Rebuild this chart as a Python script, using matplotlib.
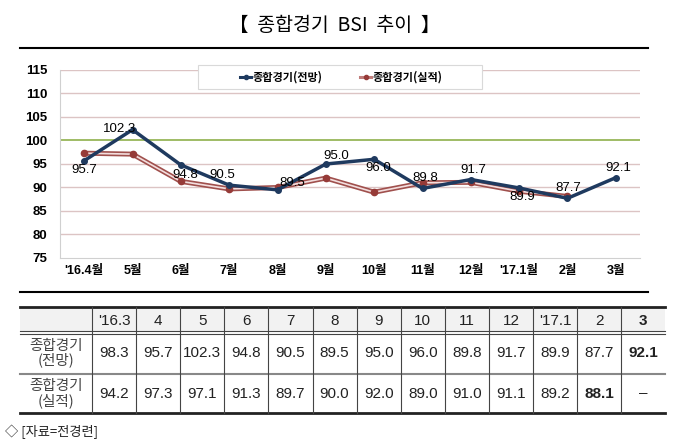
import matplotlib
matplotlib.use('Agg')
import matplotlib.pyplot as plt
from matplotlib.patches import Rectangle
from matplotlib.lines import Line2D
import numpy as np

plt.rcParams['font.family'] = ['Liberation Sans', 'Noto Sans CJK KR', 'DejaVu Sans']

# chart data
months = ["'16.4월", '5월', '6월', '7월', '8월', '9월', '10월', '11월', '12월', "'17.1월", '2월', '3월']
forecast = [95.7, 102.3, 94.8, 90.5, 89.5, 95.0, 96.0, 89.8, 91.7, 89.9, 87.7, 92.1]
actual = [97.3, 97.1, 91.3, 89.7, 90.0, 92.0, 89.0, 91.0, 91.1, 89.2, 88.1, np.nan]
# label offsets in pixels (dx, dy)
label_off = [(0, -9), (-13, 1), (4, -10), (-7, 10), (15, 7), (10, 8),
             (4, -9), (3, 10), (2, 10), (3, -9), (1, 10), (2, 10)]

# table data
table_cols = ["'16.3", '4', '5', '6', '7', '8', '9', '10', '11', '12', "'17.1", '2', '3']
table_forecast = ['98.3', '95.7', '102.3', '94.8', '90.5', '89.5', '95.0', '96.0', '89.8', '91.7', '89.9', '87.7', '92.1']
table_actual = ['94.2', '97.3', '97.1', '91.3', '89.7', '90.0', '92.0', '89.0', '91.0', '91.1', '89.2', '88.1', '–']
row_names = ['종합경기\n(전망)', '종합경기\n(실적)']

W, H = 680, 444
fig = plt.figure(figsize=(W / 100, H / 100), dpi=100)

# page overlay in pixel coordinates (frames, table)
pg = fig.add_axes([0, 0, 1, 1])
pg.set_xlim(0, W)
pg.set_ylim(H, 0)
pg.axis('off')
pg.patch.set_alpha(0)

fig.text(335 / W, 1 - 25 / H, '【  종합경기  BSI  추이  】', fontsize=14,
         ha='center', va='center', family=['Noto Sans CJK KR'])
pg.plot([20, 648], [48, 48], color='black', lw=1.5)
pg.plot([20, 648], [292, 292], color='black', lw=1.5)

# chart
ax = fig.add_axes([60 / W, (H - 258) / H, 580 / W, 188 / H])
x = np.arange(len(months))
ax.set_xlim(-0.5, len(months) - 0.5)
ax.set_ylim(75, 115)
ax.set_yticks(np.arange(75, 116, 5))
ax.set_xticks(x)
ax.set_xticklabels(months)
for s in ['top', 'right']:
    ax.spines[s].set_visible(False)
ax.spines['left'].set_color('#d0d0d0')
ax.spines['bottom'].set_color('#d0d0d0')
ax.tick_params(length=0)
ax.tick_params(axis='y', pad=9, labelsize=9.5)
ax.tick_params(axis='x', pad=5, labelsize=9)
for t in ax.get_xticklabels() + ax.get_yticklabels():
    t.set_fontweight('bold')
for yv in np.arange(80, 116, 5):
    if yv == 100:
        ax.axhline(yv, color='#8fb04c', lw=1.2, zorder=1)
    else:
        ax.axhline(yv, color='#dcc4c4', lw=1, zorder=1)

ax.plot(x, actual, color='#a0504d', lw=3.6, zorder=3, solid_capstyle='round')
ax.plot(x, actual, color='#f3dede', lw=1.2, zorder=3)
ax.plot(x, actual, 'o', color='#963b38', ms=4.5, zorder=4)
ax.plot(x, forecast, color='#1f3a5f', lw=2.5, marker='o', ms=4, zorder=5)

for i, v in enumerate(forecast):
    dx, dy = label_off[i]
    ax.annotate(f'{v:.1f}', (x[i], v), xytext=(dx * 0.72, dy * 0.72),
                textcoords='offset points', ha='center', va='center',
                fontsize=9.5, color='black', zorder=6)

# legend box
ax.add_patch(Rectangle(((198 - 60) / 580, (258 - 89) / 188), 284 / 580, 24 / 188,
                       transform=ax.transAxes, facecolor='white', edgecolor='#d9d9d9',
                       lw=0.8, zorder=7, clip_on=False))
h1 = Line2D([], [], color='#1f3a5f', lw=2.2, marker='o', ms=3)
h2 = Line2D([], [], color='#c07d7b', lw=2.2, marker='o', ms=3, mfc='#963b38', mec='#963b38')
leg = ax.legend([h1, h2], ['종합경기(전망)', '종합경기(실적)'], loc='center',
                bbox_to_anchor=(0.485, 0.963), ncol=2, frameon=False,
                handlelength=1.0, handletextpad=0.1, columnspacing=3.4,
                prop={'family': ['Noto Sans CJK KR'], 'weight': 'bold', 'size': 8})
leg.set_zorder(8)
leg.get_texts()[1].set_style('italic')

# table
col0, col1, cw = 20, 92, 44.1
edges = [col0] + [col1 + i * cw for i in range(len(table_cols) + 1)]
r0, r1, r2, r3 = 307, 332, 374, 413
pg.add_patch(Rectangle((col0, r0), edges[-1] - col0, r1 - r0, facecolor='#f2f2f2', edgecolor='none'))
pg.plot([col0, edges[-1]], [r0, r0], color='#222222', lw=2)
pg.plot([col0, edges[-1]], [r1 - 1.5, r1 - 1.5], color='#444444', lw=0.8)
pg.plot([col0, edges[-1]], [r1 + 1.5, r1 + 1.5], color='#444444', lw=0.8)
pg.plot([col0, edges[-1]], [r2, r2], color='#888888', lw=1.5)
pg.plot([col0, edges[-1]], [r3, r3], color='#222222', lw=2)
for ex in edges[1:-1]:
    pg.plot([ex, ex], [r0, r3], color='#444444', lw=0.8)

tfam = ['Liberation Sans Narrow', 'Liberation Sans', 'Noto Sans CJK KR']
for i, c in enumerate(table_cols):
    cx = (edges[i + 1] + edges[i + 2]) / 2
    bold = 'bold' if i == len(table_cols) - 1 else 'normal'
    pg.text(cx, (r0 + r1) / 2 + 1, c, ha='center', va='center', fontsize=11,
            family=tfam, weight=bold, color='#222222')
    for r, vals in enumerate([table_forecast, table_actual]):
        bw = 'bold' if (r == 0 and i == 12) or (r == 1 and i == 11) else 'normal'
        cy = [(r1 + r2) / 2, (r2 + r3) / 2][r]
        pg.text(cx, cy, vals[i], ha='center', va='center', fontsize=11,
                family=tfam, weight=bw, color='#222222')
for r, name in enumerate(row_names):
    cy = [(r1 + r2) / 2, (r2 + r3) / 2][r]
    pg.text((col0 + col1) / 2, cy, name, ha='center', va='center', fontsize=10.5,
            family=['Noto Sans CJK KR'], color='#444444', linespacing=1.0)

pg.text(5, 432, '◇ [자료=전경련]', ha='left', va='center', fontsize=9.5,
        family=['Noto Sans CJK KR'], color='#222222')

fig.savefig('out.png', dpi=100)
